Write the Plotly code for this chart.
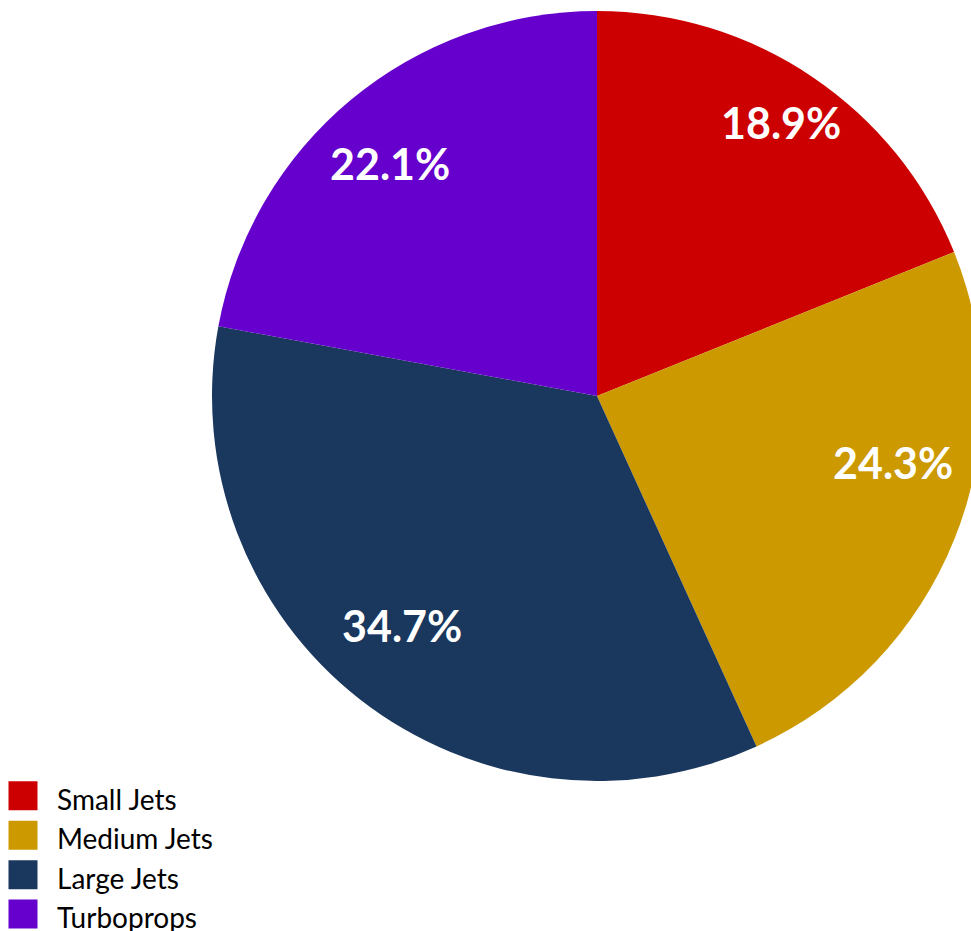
import math
import plotly.graph_objects as go

categories = ["Small Jets", "Medium Jets", "Large Jets", "Turboprops"]
shares = [18.9, 24.3, 34.7, 22.1]
colors = ["#CC0000", "#CC9900", "#1A375E", "#6600CC"]

W, H = 982, 931
# pie domain in pixels
PX0, PX1 = 212, 982
PY_TOP, PY_BOT = 11, 781

# label placement style: radial fraction plus small per-label pixel nudges
LABEL_R_FRAC = 0.8
label_nudge = [(12, -18), (10, -48), (-5, -13), (-10, 4)]

fig = go.Figure(
    go.Pie(
        labels=categories,
        values=shares,
        sort=False,
        direction="clockwise",
        rotation=0,
        marker=dict(colors=colors, line=dict(width=0)),
        textinfo="none",
        domain=dict(x=[PX0 / W, PX1 / W], y=[(H - PY_BOT) / H, (H - PY_TOP) / H]),
        hoverinfo="label+percent",
    )
)

cx = (PX0 + PX1) / 2
cy = (PY_TOP + PY_BOT) / 2
R = (PX1 - PX0) / 2
total = sum(shares)
cum = 0.0
for v, (nx, ny) in zip(shares, label_nudge):
    mid = (cum + v / 2) / total * 2 * math.pi
    cum += v
    px = cx + LABEL_R_FRAC * R * math.sin(mid) + nx
    py = cy - LABEL_R_FRAC * R * math.cos(mid) + ny
    fig.add_annotation(
        x=px / W,
        y=1 - py / H,
        xref="paper",
        yref="paper",
        text=f"{v:.1f}%",
        showarrow=False,
        xanchor="center",
        yanchor="middle",
        font=dict(family="Lato", size=43, color="white", weight="bold"),
    )

fig.update_layout(
    width=W,
    height=H,
    autosize=False,
    margin=dict(l=0, r=0, t=0, b=0, autoexpand=False),
    paper_bgcolor="white",
    plot_bgcolor="white",
    font=dict(family="Lato", color="#000000"),
    legend=dict(
        x=7 / W,
        y=0.1685,
        xanchor="left",
        yanchor="top",
        itemwidth=40,
        font=dict(family="Lato", size=28, color="#000000"),
        bgcolor="rgba(0,0,0,0)",
    ),
    showlegend=True,
)

post = """
document.body.style.margin='0';
document.body.style.overflow='hidden';
var gd = document.getElementById('{plot_id}');
gd.querySelectorAll('path.legendpie').forEach(function(p){
  p.setAttribute('d','M14.5,14.5H-14.5V-14.5H14.5Z');
  p.setAttribute('transform','translate(16,-3)');
});
"""

fig.write_html("out.html", post_script=post, config={"displayModeBar": False})
